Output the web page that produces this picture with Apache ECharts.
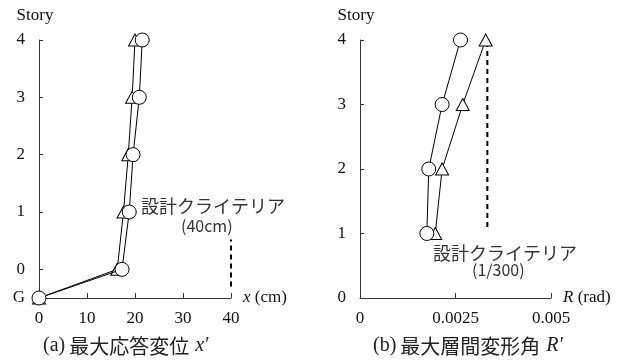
<!DOCTYPE html>
<html>
<head>
<meta charset="utf-8">
<script src="https://cdn.jsdelivr.net/npm/echarts@6/dist/echarts.min.js"></script>
<style>
html,body{margin:0;padding:0;background:#fff;}
#chart{width:630px;height:361px;}
</style>
</head>
<body>
<div id="chart"></div>
<script>
// Story levels (G is drawn at -0.5, just below story 0)
const storiesDisp = [-0.5, 0, 1, 2, 3, 4];
const storiesDrift = [1, 2, 3, 4];

// (a) maximum response displacement x' (cm)
const dispCircle = [0, 17.3, 18.8, 19.6, 20.9, 21.5];
const dispTriangle = [0, 16.3, 17.6, 18.6, 19.4, 20.0];

// (b) maximum story drift angle R' (rad)
const driftCircle = [0.00175, 0.0018, 0.00215, 0.00263];
const driftTriangle = [0.00197, 0.00215, 0.00269, 0.00329];

// design criteria
const dispLimit = 40;
const driftLimit = 1 / 300;
const dispLimitRange = [-0.3, 0.52];
const driftLimitRange = [1.1, 4];

const storyTicks = [0, 1, 2, 3, 4];
const storyLabelsDisp = [-0.5, 0, 1, 2, 3, 4];
const storyLabelsDrift = [0, 1, 2, 3, 4];

const SERIF = '"Liberation Serif", "DejaVu Serif", serif';
const CJK = '"Noto Sans CJK JP", sans-serif';
const AXIS_COLOR = '#333';
const FS = 17;

const pairs = (xs, ys) => xs.map((x, i) => [x, ys[i]]);

function storyAxis(gridIndex, min, labels) {
  return {
    gridIndex: gridIndex,
    type: 'value',
    min: min,
    max: 4,
    name: 'Story',
    nameLocation: 'end',
    nameGap: 16,
    nameTextStyle: { fontFamily: SERIF, fontSize: FS, color: '#111', align: 'center', padding: [0, 8, 0, 0] },
    axisLine: { show: true, onZero: false, lineStyle: { color: AXIS_COLOR, width: 1 } },
    axisTick: { show: true, inside: true, length: 4, customValues: storyTicks, lineStyle: { color: AXIS_COLOR } },
    axisLabel: {
      customValues: labels,
      fontFamily: SERIF, fontSize: FS, color: '#111', margin: 14,
      formatter: v => (v === -0.5 ? 'G' : String(v))
    },
    splitLine: { show: false }
  };
}

function valueAxis(gridIndex, max, interval, unitVar, unit) {
  return {
    gridIndex: gridIndex, type: 'value', min: 0, max: max, interval: interval,
    name: '{i|' + unitVar + '} ' + unit, nameLocation: 'end', nameGap: 12,
    nameTextStyle: { fontFamily: SERIF, fontSize: FS, color: '#111', rich: { i: { fontFamily: SERIF, fontStyle: 'italic', fontSize: FS, color: '#111' } } },
    axisLine: { onZero: false, lineStyle: { color: AXIS_COLOR } },
    axisTick: { inside: true, length: 5, lineStyle: { color: AXIS_COLOR } },
    axisLabel: { fontFamily: SERIF, fontSize: FS, color: '#111', margin: 12, formatter: v => String(v) },
    splitLine: { show: false }
  };
}

function captionStyle() {
  return { rich: {
    s: { fontFamily: SERIF, fontSize: 20, color: '#222', fontWeight: 'normal', padding: [0, 4, 0, 0] },
    j: { fontFamily: CJK, fontSize: 20, color: '#222', fontWeight: 'normal' },
    i: { fontFamily: SERIF, fontStyle: 'italic', fontSize: 20, color: '#222', fontWeight: 'normal', padding: [0, 0, 0, 6] }
  } };
}

const chart = echarts.init(document.getElementById('chart'));
chart.setOption({
  animation: false,
  backgroundColor: '#fff',
  grid: [
    { left: 39, top: 40, width: 192, height: 258 },
    { left: 360, top: 40, width: 191, height: 258 }
  ],
  xAxis: [
    valueAxis(0, 40, 10, 'x', '(cm)'),
    valueAxis(1, 0.005, 0.0025, 'R', '(rad)')
  ],
  yAxis: [
    storyAxis(0, -0.5, storyLabelsDisp),
    storyAxis(1, 0, storyLabelsDrift)
  ],
  title: [
    { text: '{s|(a)}{j|最大応答変位}{i|x′}', left: 43, top: 336, padding: 0, textStyle: captionStyle() },
    { text: '{s|(b)}{j|最大層間変形角}{i|R′}', left: 373, top: 336, padding: 0, textStyle: captionStyle() }
  ],
  series: [
    {
      type: 'line', xAxisIndex: 0, yAxisIndex: 0,
      data: [[dispLimit, dispLimitRange[0]], [dispLimit, dispLimitRange[1]]],
      symbol: 'none', lineStyle: { color: '#000', width: 2, type: [5, 4] },
      silent: true, z: 1
    },
    {
      type: 'line', xAxisIndex: 0, yAxisIndex: 0,
      data: pairs(dispTriangle, storiesDisp),
      symbol: 'triangle', symbolSize: [13, 12],
      itemStyle: { color: '#fff', borderColor: '#000', borderWidth: 1 },
      lineStyle: { color: '#000', width: 1 }, z: 2
    },
    {
      type: 'line', xAxisIndex: 0, yAxisIndex: 0,
      data: pairs(dispCircle, storiesDisp),
      symbol: 'circle', symbolSize: 14,
      itemStyle: { color: '#fff', borderColor: '#000', borderWidth: 1 },
      lineStyle: { color: '#000', width: 1 }, z: 3
    },
    {
      type: 'line', xAxisIndex: 1, yAxisIndex: 1,
      data: [[driftLimit, driftLimitRange[0]], [driftLimit, driftLimitRange[1]]],
      symbol: 'none', lineStyle: { color: '#000', width: 2, type: [5, 4] },
      silent: true, z: 1
    },
    {
      type: 'line', xAxisIndex: 1, yAxisIndex: 1,
      data: pairs(driftTriangle, storiesDrift),
      symbol: 'triangle', symbolSize: [13, 12],
      itemStyle: { color: '#fff', borderColor: '#000', borderWidth: 1 },
      lineStyle: { color: '#000', width: 1 }, z: 2
    },
    {
      type: 'line', xAxisIndex: 1, yAxisIndex: 1,
      data: pairs(driftCircle, storiesDrift),
      symbol: 'circle', symbolSize: 14,
      itemStyle: { color: '#fff', borderColor: '#000', borderWidth: 1 },
      lineStyle: { color: '#000', width: 1 }, z: 3
    }
  ],
  graphic: [
    {
      type: 'text', left: 141, top: 197,
      style: { text: '設計クライテリア', font: '18px "Noto Sans CJK JP", sans-serif', fill: '#333' }
    },
    {
      type: 'text', left: 181, top: 218,
      style: { text: '(40cm)', font: '16px "Noto Sans CJK JP", sans-serif', fill: '#333' }
    },
    {
      type: 'text', left: 433, top: 244,
      style: { text: '設計クライテリア', font: '18px "Noto Sans CJK JP", sans-serif', fill: '#333' }
    },
    {
      type: 'text', left: 472, top: 262,
      style: { text: '(1/300)', font: '16px "Noto Sans CJK JP", sans-serif', fill: '#333' }
    }
  ]
});
</script>
</body>
</html>
